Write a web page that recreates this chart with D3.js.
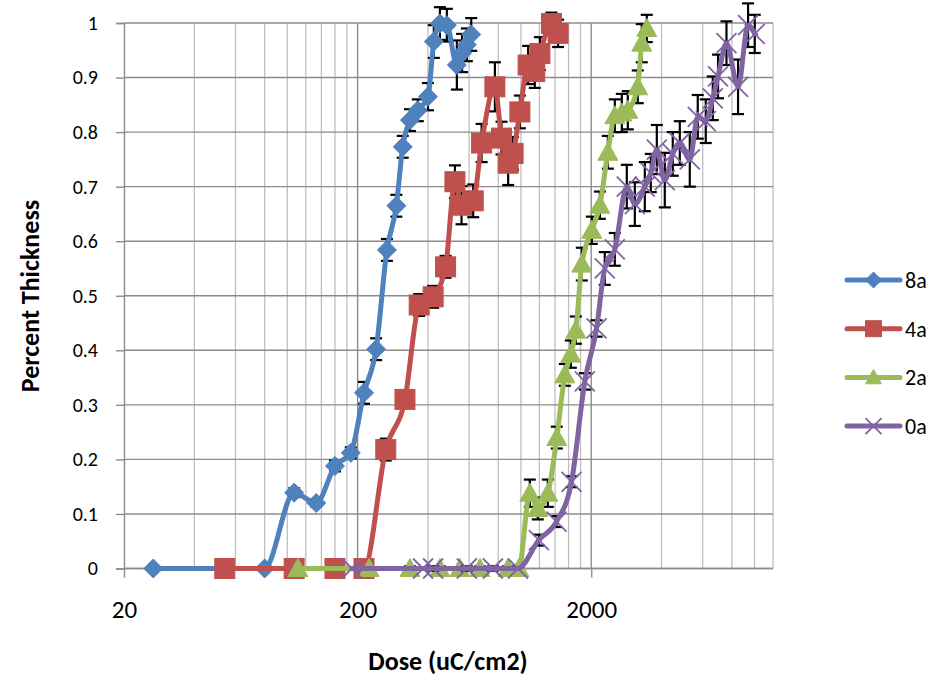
<!DOCTYPE html>
<html><head><meta charset="utf-8">
<script src="https://cdn.jsdelivr.net/npm/d3@7"></script>
<style>
html,body{margin:0;padding:0;background:#fff;}
svg text{font-family:Calibri,Carlito,Lato,sans-serif;fill:#000;}
</style></head>
<body>
<script>
// ---- data ----
const seriesNames = ["8a","4a","2a","0a"];
const seriesColors = ["#4F81BD","#C0504D","#9BBB59","#8064A2"];

const dose8a = [26.7,80,107,133,160,187,213,240,267,293,312,335,362,400,424,450,482,532,560,587,613];
const thick8a = [0,0,0.139,0.12,0.188,0.212,0.322,0.402,0.584,0.665,0.773,0.822,0.84,0.865,0.966,0.999,0.996,0.923,0.945,0.96,0.979];
const err8a = [0,0.003,0.008,0.006,0.01,0.01,0.02,0.02,0.02,0.02,0.02,0.02,0.02,0.025,0.03,0.03,0.03,0.045,0.035,0.03,0.03];

const dose4a = [54,107,160,213,264,319,367,421,476,522,557,625,679,774,826,882,926,990,1074,1147,1206,1352,1443];
const thick4a = [0,0,0,0,0.218,0.31,0.483,0.498,0.553,0.709,0.666,0.674,0.78,0.883,0.789,0.743,0.761,0.837,0.923,0.911,0.944,0.999,0.981];
const err4a = [0,0,0,0,0.02,0.015,0.02,0.02,0.02,0.03,0.035,0.03,0.035,0.045,0.03,0.04,0.03,0.03,0.035,0.03,0.03,0.02,0.025];

const dose2a = [111,224,335,450,548,668,880,980,1092,1181,1304,1425,1542,1636,1719,1823,2012,2178,2356,2524,2704,2868,3164,3292,3458];
const thick2a = [0,0,0,0,0,0,0,0,0.138,0.11,0.138,0.24,0.355,0.393,0.437,0.558,0.62,0.666,0.763,0.83,0.835,0.84,0.883,0.963,0.99];
const err2a = [0,0,0.004,0.004,0,0.004,0.004,0.004,0.025,0.02,0.025,0.02,0.02,0.025,0.025,0.03,0.025,0.025,0.03,0.03,0.035,0.035,0.03,0.035,0.025];

const dose0a = [189,381,421,587,759,971,1194,1420,1647,1878,2108,2286,2524,2840,3074,3392,3598,3818,4130,4468,4788,5284,5716,6186,6628,6982,7586,8504,9386,10024];
const thick0a = [0,0,0,0,0,0,0.052,0.086,0.159,0.343,0.44,0.55,0.585,0.70,0.668,0.70,0.725,0.768,0.712,0.76,0.78,0.75,0.828,0.82,0.862,0.902,0.963,0.883,0.996,0.98];
const err0a = [0,0,0.004,0.004,0.004,0,0.01,0.01,0.01,0.015,0.015,0.03,0.03,0.04,0.04,0.045,0.035,0.045,0.05,0.04,0.04,0.05,0.04,0.04,0.04,0.04,0.04,0.05,0.04,0.035];

const xTickValues = [20,200,2000];
const xTickLabels = ["20","200","2000"];
const yTickValues = [0,0.1,0.2,0.3,0.4,0.5,0.6,0.7,0.8,0.9,1];
const yTickLabels = ["0","0.1","0.2","0.3","0.4","0.5","0.6","0.7","0.8","0.9","1"];
const xTitle = "Dose (uC/cm2)";
const yTitle = "Percent Thickness";

const allDose = [dose8a,dose4a,dose2a,dose0a];
const allThick = [thick8a,thick4a,thick2a,thick0a];
const allErr = [err8a,err4a,err2a,err0a];
const markerTypes = ["diamond","square","triangle","x"];

// ---- layout ----
const W=934,H=677;
const L=124,R=773,T=23,B=568.5;
const svg=d3.select("body").append("svg").attr("width",W).attr("height",H);
const x=d3.scaleLog().domain([20,12000]).range([L,R]);
const y=d3.scaleLinear().domain([0,1]).range([B,T]);

// minor vertical gridlines
const minor=[];
[20,200,2000].forEach(b=>{for(let k=2;k<=9;k++){const v=b*k; if(v<=12000 && v!==200 && v!==2000) minor.push(v);}});
svg.append("g").selectAll("line").data(minor).join("line")
  .attr("x1",d=>x(d)).attr("x2",d=>x(d)).attr("y1",T).attr("y2",B)
  .attr("stroke","#bfbfbf").attr("stroke-width",1.3);
// horizontal gridlines
svg.append("g").selectAll("line").data(yTickValues).join("line")
  .attr("x1",L).attr("x2",R).attr("y1",d=>y(d)).attr("y2",d=>y(d))
  .attr("stroke","#8c8c8c").attr("stroke-width",1.4);
// major vertical gridlines
svg.append("g").selectAll("line").data([200,2000]).join("line")
  .attr("x1",d=>x(d)).attr("x2",d=>x(d)).attr("y1",T).attr("y2",B)
  .attr("stroke","#8c8c8c").attr("stroke-width",1.4);

// axes
const yAxis=d3.axisLeft(y).tickValues(yTickValues).tickFormat((d,i)=>yTickLabels[i]).tickSize(8).tickPadding(18);
const gy=svg.append("g").attr("transform",`translate(${L},0)`).call(yAxis);
gy.select(".domain").attr("stroke","#8c8c8c").attr("stroke-width",1.4);
gy.selectAll(".tick line").attr("stroke","#8c8c8c").attr("stroke-width",1.4);
gy.selectAll("text").style("font-size","20px");

const xAxis=d3.axisBottom(x).tickValues(xTickValues).tickFormat((d,i)=>xTickLabels[i]).tickSize(9).tickPadding(23);
const gx=svg.append("g").attr("transform",`translate(0,${B})`).call(xAxis);
gx.select(".domain").attr("stroke","#8c8c8c").attr("stroke-width",1.4).attr("d",`M${L},0H${R}`);
gx.selectAll(".tick line").attr("stroke","#8c8c8c").attr("stroke-width",1.4);
gx.selectAll("text").style("font-size","25px");

// titles
svg.append("text").attr("x",448).attr("y",670).attr("text-anchor","middle")
  .style("font-size","26px").style("font-weight","bold").text(xTitle);
svg.append("text").attr("transform","translate(39,296) rotate(-90)").attr("text-anchor","middle")
  .style("font-size","26px").style("font-weight","bold").text(yTitle);

// marker drawing
function drawMarker(g,type,color,size){
  const s=size/2;
  if(type==="diamond"){
    g.append("path").attr("d",`M0,${-s}L${s},0L0,${s}L${-s},0Z`).attr("fill",color).attr("stroke",color).attr("stroke-width",1);
  } else if(type==="square"){
    g.append("rect").attr("x",-s).attr("y",-s).attr("width",size).attr("height",size).attr("fill",color).attr("stroke",color).attr("stroke-width",1);
  } else if(type==="triangle"){
    g.append("path").attr("d",`M0,${-s}L${s},${s*0.8}L${-s},${s*0.8}Z`).attr("fill",color).attr("stroke",color).attr("stroke-width",1);
  } else {
    g.append("path").attr("d",`M${-s},${-s}L${s},${s}M${s},${-s}L${-s},${s}`).attr("stroke",color).attr("stroke-width",1.8).attr("fill","none");
  }
}
const mSize=[19,20,20,20];

const line=d3.line().x(d=>x(d[0])).y(d=>y(d[1])).curve(d3.curveMonotoneX);

seriesNames.forEach((name,si)=>{
  const pts=allDose[si].map((d,i)=>[d,allThick[si][i],allErr[si][i]]);
  const g=svg.append("g");
  // error bars
  const eb=g.append("g").attr("stroke","#000").attr("stroke-width",2.2);
  pts.forEach(p=>{
    if(p[2]<=0) return;
    const cx=x(p[0]), y1=y(Math.min(1.06,p[1]+p[2])), y2=y(p[1]-p[2]);
    eb.append("line").attr("x1",cx).attr("x2",cx).attr("y1",y1).attr("y2",y2);
    eb.append("line").attr("x1",cx-6).attr("x2",cx+6).attr("y1",y1).attr("y2",y1);
    eb.append("line").attr("x1",cx-6).attr("x2",cx+6).attr("y1",y2).attr("y2",y2);
  });
  g.append("path").datum(pts).attr("d",line).attr("fill","none")
    .attr("stroke",seriesColors[si]).attr("stroke-width",5).attr("stroke-linejoin","round").attr("stroke-linecap","round");
  pts.forEach(p=>{
    const mg=g.append("g").attr("transform",`translate(${x(p[0])},${y(p[1])})`);
    drawMarker(mg,markerTypes[si],seriesColors[si],mSize[si]);
  });
});

// legend
const lg=svg.append("g");
seriesNames.forEach((name,i)=>{
  const ly=280+i*48.7;
  lg.append("line").attr("x1",847).attr("x2",900).attr("y1",ly).attr("y2",ly)
    .attr("stroke",seriesColors[i]).attr("stroke-width",5).attr("stroke-linecap","round");
  const mg=lg.append("g").attr("transform",`translate(873.5,${ly})`);
  drawMarker(mg,markerTypes[i],seriesColors[i],16);
  lg.append("text").attr("x",905).attr("y",ly+8).style("font-size","22px").text(name);
});
</script>
</body></html>
